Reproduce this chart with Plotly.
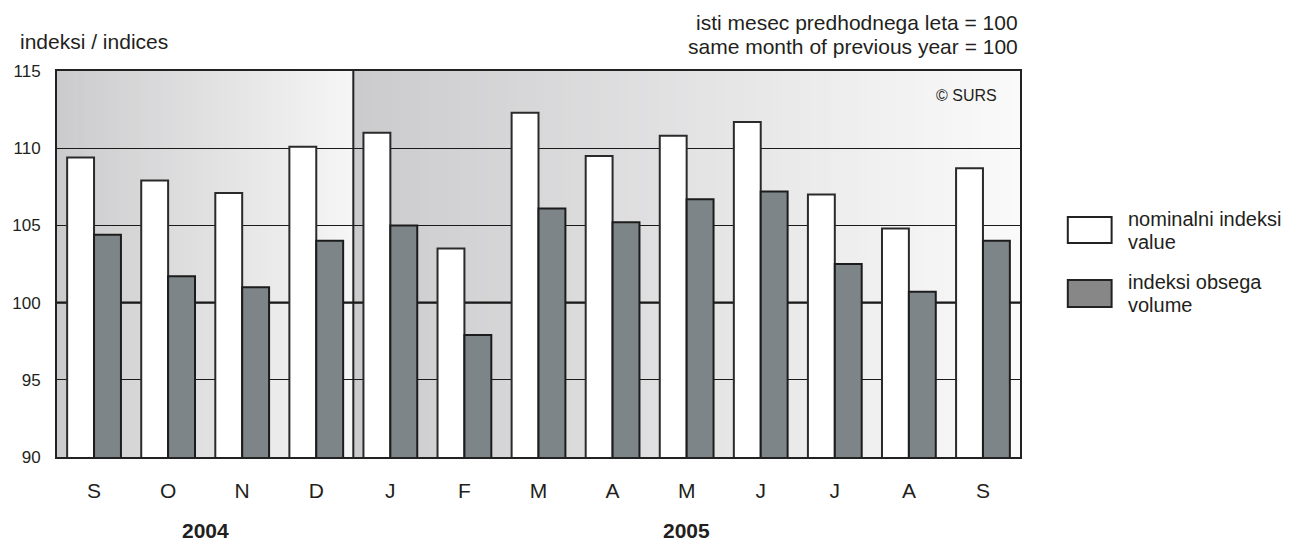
import plotly.graph_objects as go

# ---- data ----
months = ["S", "O", "N", "D", "J", "F", "M", "A", "M", "J", "J", "A", "S"]
years = ["2004", "2005"]
year_counts = [4, 9]
nominal = [109.4, 107.9, 107.1, 110.1, 111.0, 103.5, 112.3, 109.5, 110.8, 111.7, 107.0, 104.8, 108.7]
volume = [104.4, 101.7, 101.0, 104.0, 105.0, 97.9, 106.1, 105.2, 106.7, 107.2, 102.5, 100.7, 104.0]
series_names = ["nominalni indeksi<br>value", "indeksi obsega<br>volume"]
y_ticks = [90, 95, 100, 105, 110, 115]

FONT = "Liberation Sans, Arial, Helvetica, sans-serif"
TXT = "#231f20"
WHITE_FILL = "#ffffff"
GRAY_FILL = "#7e8588"

xs = list(range(len(months)))

fig = go.Figure()
fig.add_trace(go.Bar(x=xs, y=nominal, name=series_names[0],
                     marker=dict(color=WHITE_FILL, line=dict(color="#2a2a2a", width=2))))
fig.add_trace(go.Bar(x=xs, y=volume, name=series_names[1],
                     marker=dict(color=GRAY_FILL, line=dict(color="#1c1c1c", width=2))))

shapes = []
# gradient background per year section (drawn as thin strips, below gridlines)
def lerp(c0, c1, t):
    return "rgb(%d,%d,%d)" % tuple(round(a + (b - a) * t) for a, b in zip(c0, c1))

sections = []
start = -0.5
for n in year_counts:
    sections.append((start, start + n))
    start += n
ends = [(246, 246, 246), (250, 250, 250)]
N = 70
for (a, b), cend in zip(sections, ends):
    w = (b - a) / N
    for i in range(N):
        shapes.append(dict(type="rect", xref="x", yref="paper",
                           x0=a + i * w, x1=min(b, a + (i + 1) * w + w * 0.6),
                           y0=0, y1=1, layer="below", line=dict(width=0),
                           fillcolor=lerp((203, 203, 205), cend, (i + 0.5) / N)))
# reference line at 100
shapes.append(dict(type="line", xref="paper", yref="y", x0=0, x1=1, y0=100, y1=100,
                   layer="between", line=dict(color="#111", width=2.2)))
# year divider
shapes.append(dict(type="line", xref="x", yref="paper", x0=sections[0][1], x1=sections[0][1],
                   y0=0, y1=1, layer="between", line=dict(color="#222", width=2)))

# custom legend
PW, PH, L, B = 967.0, 386.0, 53.0, 457.0
def px(x):
    return (x - L) / PW
def py(y):
    return (B - y) / PH

legend_boxes = [(217, 243, WHITE_FILL), (280, 307, "#878787")]
for (t, btm, fc) in legend_boxes:
    shapes.append(dict(type="rect", xref="paper", yref="paper",
                       x0=px(1068), x1=px(1112), y0=py(btm), y1=py(t),
                       fillcolor=fc, line=dict(color="#222", width=2)))

annotations = []
legend_lines = [("nominalni indeksi", 219), ("value", 242),
                ("indeksi obsega", 282), ("volume", 305)]
for txt, yy in legend_lines:
    annotations.append(dict(text=txt, xref="paper", yref="paper", x=px(1126), y=py(yy),
                            xanchor="left", yanchor="middle", showarrow=False,
                            font=dict(size=20, color=TXT, family=FONT)))

# year labels centred under their months
for (a, b), yr in zip(sections, years):
    annotations.append(dict(text="<b>%s</b>" % yr, xref="x", yref="paper", x=(a + b) / 2,
                            y=py(530), xanchor="center", yanchor="middle", showarrow=False,
                            font=dict(size=21, color=TXT, family=FONT)))

annotations.append(dict(text="indeksi / indices", xref="paper", yref="paper", x=px(14), y=py(42),
                        xanchor="left", yanchor="middle", showarrow=False,
                        font=dict(size=21, color=TXT, family=FONT)))
annotations.append(dict(text="isti mesec predhodnega leta = 100", xref="paper", yref="paper",
                        x=px(1020), y=py(22), xanchor="right", yanchor="middle", showarrow=False,
                        font=dict(size=21, color=TXT, family=FONT)))
annotations.append(dict(text="same month of previous year = 100", xref="paper", yref="paper",
                        x=px(1020), y=py(46), xanchor="right", yanchor="middle", showarrow=False,
                        font=dict(size=21, color=TXT, family=FONT)))
annotations.append(dict(text="© SURS", xref="paper", yref="paper", x=px(999), y=py(95),
                        xanchor="right", yanchor="middle", showarrow=False,
                        font=dict(size=16, color=TXT, family=FONT)))

fig.update_layout(
    width=1290, height=541,
    margin=dict(l=53, r=270, t=71, b=84, pad=0),
    paper_bgcolor="white", plot_bgcolor="rgba(0,0,0,0)",
    barmode="group", bargap=0.274, bargroupgap=0,
    showlegend=False,
    font=dict(family=FONT, color=TXT),
    shapes=shapes, annotations=annotations,
    xaxis=dict(range=[-0.5, len(months) - 0.5], tickvals=xs, ticktext=months,
               showgrid=False, zeroline=False, showline=True, mirror=True,
               linecolor="#222", linewidth=2, ticks="", ticklabelstandoff=14,
               tickfont=dict(size=21, color=TXT, family=FONT), fixedrange=True),
    yaxis=dict(range=[90, 115], tickvals=y_ticks, showgrid=True, gridcolor="#1a1a1a",
               gridwidth=1, zeroline=False, showline=True, mirror=True,
               linecolor="#222", linewidth=2, ticks="", ticklabelstandoff=11,
               tickfont=dict(size=17, color=TXT, family=FONT), fixedrange=True),
)

fig.write_html("out.html", config={"displayModeBar": False},
               post_script="document.body.style.margin='0';document.body.style.overflow='hidden';")
